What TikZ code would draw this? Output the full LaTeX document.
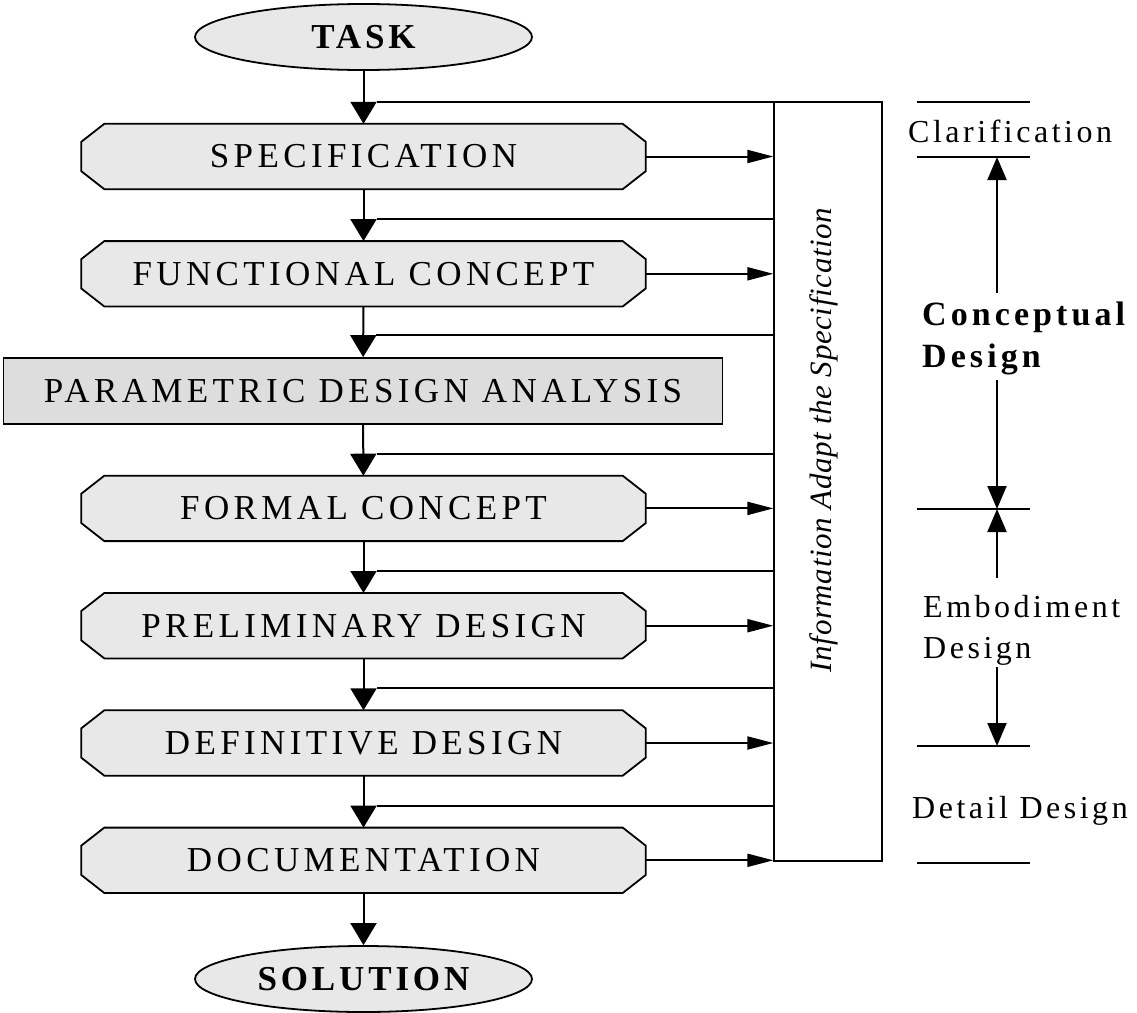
\documentclass[tikz,border=0pt]{standalone}
\usepackage{fontspec}
\setmainfont{Liberation Serif}
\newfontfamily\stagefont[LetterSpace=12.5]{Liberation Serif}
\newfontfamily\termfont[LetterSpace=11]{Liberation Serif}
\newfontfamily\sidefont[LetterSpace=11]{Liberation Serif}
\newfontfamily\sideboldfont[LetterSpace=12]{Liberation Serif Bold}
\newfontfamily\infofont[LetterSpace=2]{Liberation Serif Italic}
\usetikzlibrary{arrows.meta,shapes.geometric}
\definecolor{stagegray}{gray}{0.91}
\definecolor{paramgray}{gray}{0.865}
\pgfdeclarelayer{back}
\pgfsetlayers{back,main}

\begin{document}
\begin{tikzpicture}[x=1pt,y=-1pt,
  stage/.style={minimum width=564pt,minimum height=65pt,inner sep=0pt,
    font=\stagefont\fontsize{35}{41}\selectfont},
  stageshape/.style={fill=stagegray,draw=black,line width=1.8pt,line join=miter},
  parambox/.style={draw=black,fill=paramgray,line width=1.8pt,minimum width=719pt,
    minimum height=66pt,inner sep=0pt,font=\stagefont\fontsize{35}{41}\selectfont},
  terminal/.style={ellipse,draw=black,fill=stagegray,line width=1.8pt,
    minimum width=337pt,minimum height=66pt,inner sep=0pt,
    font=\termfont\bfseries\fontsize{35}{40}\selectfont},
  infobox/.style={draw=black,line width=1.3pt,minimum width=108pt,minimum height=759pt,inner sep=0pt},
  flow/.style={line width=2pt,-{Triangle[length=22pt,width=26pt]}},
  side/.style={line width=2pt,-{Triangle[length=26pt,width=13pt]}},
  scalearrow/.style={line width=2pt,-{Triangle[length=23pt,width=19pt]}},
  feedback/.style={line width=2pt},
  tick/.style={line width=2pt},
  lab/.style={anchor=base west,inner sep=0pt,font=\sidefont\fontsize{32}{38}\selectfont},
  boldlab/.style={anchor=base west,inner sep=0pt,font=\sideboldfont\fontsize{34}{40}\selectfont}]
\useasboundingbox (0,0) rectangle (1137,1012);

% terminals and stages of the design process
\node[terminal] (task) at (363.5,37) {TASK};
\node[stage] (spec)   at (363.5,156.5) {SPECIFICATION};
\node[stage] (func)   at (363.5,273.8) {FUNCTIONAL CONCEPT};
\node[parambox] (param) at (363,391) {PARAMETRIC DESIGN ANALYSIS};
\node[stage] (formal) at (363.5,508.4) {FORMAL CONCEPT};
\node[stage] (prelim) at (363.5,625.7) {PRELIMINARY DESIGN};
\node[stage] (defin)  at (363.5,743) {DEFINITIVE DESIGN};
\node[stage] (docu)   at (363.5,860.3) {DOCUMENTATION};
\node[terminal] (sol) at (363.5,979) {SOLUTION};

% chamfered outlines behind the stage labels
\begin{pgfonlayer}{back}
\foreach \n in {spec,func,formal,prelim,defin,docu}{
  \filldraw[stageshape] ([xshift=23pt]\n.north west) -- ([xshift=-23pt]\n.north east)
    -- ([yshift=-18pt]\n.north east) -- ([yshift=18pt]\n.south east)
    -- ([xshift=-23pt]\n.south east) -- ([xshift=23pt]\n.south west)
    -- ([yshift=18pt]\n.south west) -- ([yshift=-18pt]\n.north west) -- cycle;
}
\end{pgfonlayer}

% information column
\node[infobox] (info) at (828,481.5) {};
\node[rotate=90,inner sep=0pt,font=\infofont\fontsize{31}{36}\selectfont] (infotext) at (824,440)
  {Information Adapt the Specification};

% main flow
\draw[flow] (task) -- (spec);
\draw[flow] (spec) -- (func);
\draw[flow] (func) -- (param);
\draw[flow] (param) -- (formal);
\draw[flow] (formal) -- (prelim);
\draw[flow] (prelim) -- (defin);
\draw[flow] (defin) -- (docu);
\draw[flow] (docu) -- (sol);

% feedback from the information column into each step
\foreach \n in {spec,func,param,formal,prelim,defin,docu}{
  \coordinate (j\n) at ([yshift=22pt]\n.north);
  \draw[feedback] (info.west |- j\n) -- ([xshift=13pt]j\n);
}

% results passed to the information column
\foreach \n in {spec,func,formal,prelim,defin,docu}{
  \draw[side] (\n) -- (\n -| info.west);
}

% phase scale
\coordinate (t1) at (997,102);
\coordinate (t2) at (997,157);
\coordinate (t3) at (997,509);
\coordinate (t4) at (997,746);
\coordinate (t5) at (997,863);
\foreach \t in {t1,t2,t3,t4,t5}{
  \draw[tick] ([xshift=-80pt]\t) -- ([xshift=33pt]\t);
}
\node[lab] (clar) at (908,142) {Clarification};
\node[boldlab] (concA) at (922,325) {Conceptual};
\node[boldlab] (concB) at (922,367) {Design};
\node[lab] (embA) at (923,617) {Embodiment};
\node[lab] (embB) at (923,658) {Design};
\node[lab] (detail) at (912,818) {Detail Design};

\coordinate (c1) at (997,293);
\coordinate (c2) at (997,380);
\coordinate (e1) at (997,578);
\coordinate (e2) at (997,667);
\draw[scalearrow] (c1) -- (t2);
\draw[scalearrow] (c2) -- (t3);
\draw[scalearrow] (e1) -- (t3);
\draw[scalearrow] (e2) -- (t4);
\end{tikzpicture}
\end{document}
